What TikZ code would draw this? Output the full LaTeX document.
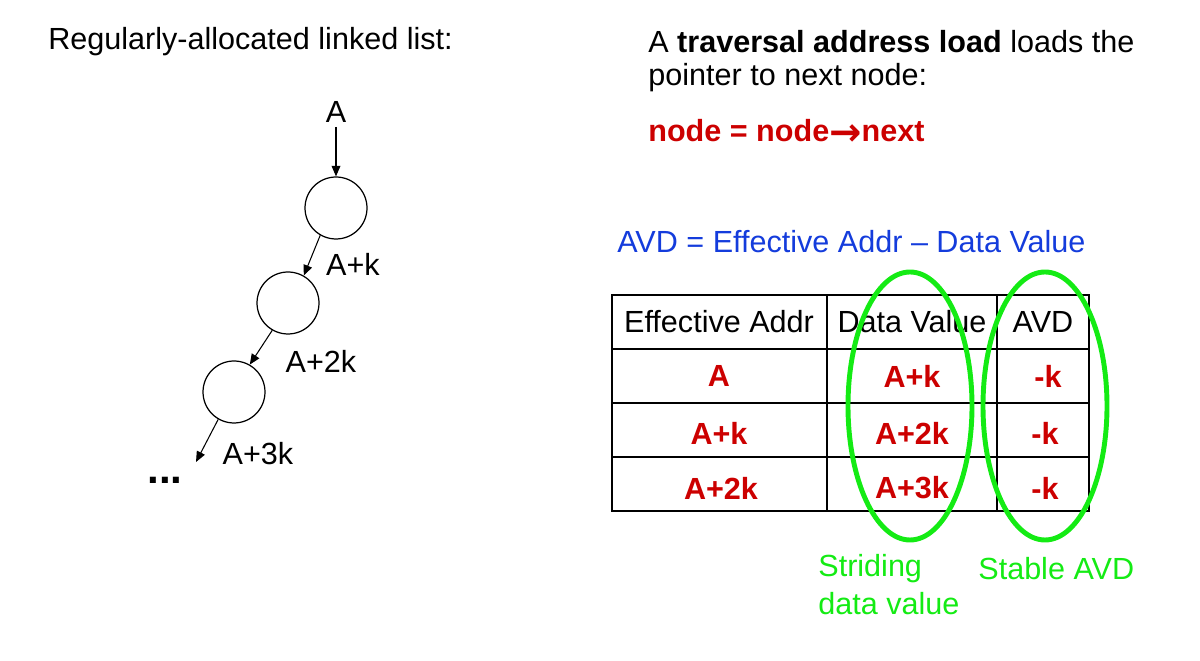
\documentclass[tikz,border=0pt]{standalone}
\usepackage{fontspec}
\setmainfont{Liberation Sans}
\newfontfamily\symfont{DejaVu Sans}
\usetikzlibrary{arrows.meta}
\definecolor{myred}{RGB}{204,0,0}
\definecolor{myblue}{RGB}{20,60,220}
\definecolor{mygreen}{RGB}{20,235,20}
\begin{document}
\begin{tikzpicture}[x={(0.02cm,0)},y={(0,-0.02cm)},
  txt/.style={inner sep=0pt,font=\fontsize{17.4}{20}\selectfont},
  ltxt/.style={txt,anchor=west},
  redb/.style={txt,text=myred,font=\fontsize{17.4}{20}\selectfont\bfseries},
  lnode/.style={draw,circle,inner sep=0pt,minimum size=1.24cm,line width=0.7pt},
  ptr/.style={-{Triangle[length=6pt,width=5pt]},line width=0.6pt},
  oval/.style={draw=mygreen,line width=2.8pt},
  gtxt/.style={ltxt,text=mygreen}]
\useasboundingbox (0,0) rectangle (1200,661);
% left side
\node[ltxt] (title) at (48,42) {Regularly-allocated linked list:};
\node[txt] (A) at (336,112) {A};
\node[lnode] (n1) at (336,208) {};
\node[lnode] (n2) at (288,303) {};
\node[lnode] (n3) at (234,392) {};
\coordinate (end) at (196,462);
\draw[ptr] (A.south) ++(0,4) coordinate (as) -- (n1.north);
\draw[ptr] (n1.240) -- (n2.60);
\draw[ptr] (n2.240) -- (n3.60);
\draw[ptr] (n3.240) -- (end);
\node[txt] (l1) at (353,264) {A+k};
\node[txt] (l2) at (321,361) {A+2k};
\node[txt] (l3) at (258,454) {A+3k};
\node[txt,font=\fontsize{24}{26}\selectfont\bfseries] (dots) at (165,480) {...};
% right side
\node[ltxt] (t1) at (648,42) {A \textbf{traversal address load} loads the};
\node[ltxt] (t2) at (648,78) {pointer to next node:};
\node[ltxt,text=myred,font=\fontsize{17.4}{20}\selectfont\bfseries] (code) at (648,132) {node = node\raisebox{-2.2pt}{\symfont\bfseries\fontsize{22}{20}\selectfont →}next};
\node[ltxt,text=myblue] (avd) at (617,242) {AVD = Effective Addr – Data Value};
% table
\draw[line width=0.7pt] (612,295) rectangle (1089,511);
\draw[line width=0.7pt] (612,349) -- (1089,349) (612,403) -- (1089,403) (612,457) -- (1089,457);
\draw[line width=0.7pt] (827,295) -- (827,511) (997,295) -- (997,511);
\node[txt] (h1) at (719,322) {Effective Addr};
\node[txt] (h2) at (912,322) {Data Value};
\node[txt] (h3) at (1043,322) {AVD};
\node[redb] (a1) at (719,376) {A};
\node[redb] (b1) at (912,376) {A+k};
\node[redb] (c1) at (1048,376) {-k};
\node[redb] (a2) at (719,433) {A+k};
\node[redb] (b2) at (912,433) {A+2k};
\node[redb] (c2) at (1045,433) {-k};
\node[redb] (a3) at (721,488) {A+2k};
\node[redb] (b3) at (912,488) {A+3k};
\node[redb] (c3) at (1045,488) {-k};
% ovals
\draw[oval] (910,406) ellipse [x radius=62, y radius=134];
\draw[oval] (1045,406) ellipse [x radius=62, y radius=134];
\node[gtxt] (s1) at (818,569) {Striding};
\node[gtxt] (s2) at (818,604) {data value};
\node[gtxt] (s3) at (978,569) {Stable AVD};
\end{tikzpicture}
\end{document}
